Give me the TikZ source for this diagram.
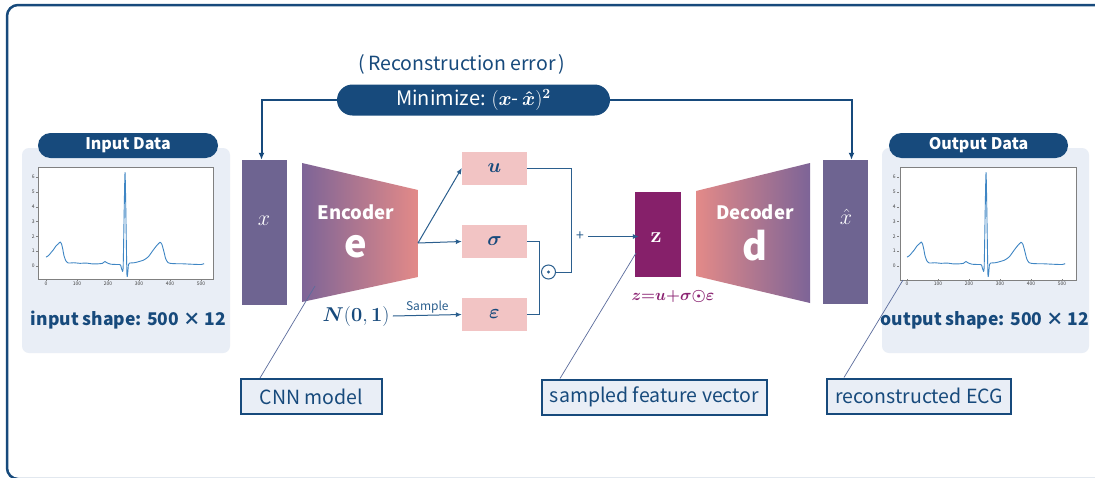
\RequirePackage{fix-cm}
\documentclass[tikz,border=0pt]{standalone}
\usepackage[no-math]{fontspec}
\setmainfont{Noto Sans CJK JP}
\usepackage{amsmath,bm}
\usetikzlibrary{arrows.meta,shapes.misc}
\definecolor{dkblue}{HTML}{174A7C}
\definecolor{lineblue}{HTML}{2B5F8E}
\definecolor{panelbg}{HTML}{E9EEF6}
\definecolor{purp}{HTML}{6E6491}
\definecolor{encL}{HTML}{7D6497}
\definecolor{encR}{HTML}{E38A88}
\definecolor{pinkbox}{HTML}{F2C4C4}
\definecolor{zmag}{HTML}{86206A}
\definecolor{fmag}{HTML}{8B2372}
\definecolor{callline}{HTML}{5B6C9C}
\definecolor{ecgblue}{HTML}{3F86C4}
\newcommand{\fs}[1]{\fontsize{#1}{#1}\selectfont}
\newcommand{\ecgplot}[1]{%
  \begin{scope}[shift={(#1)}, x=0.31pt, y=14.83pt]
    \draw[ecgblue, line width=0.9pt, line join=round] plot[smooth, tension=0.35] coordinates {
      (0,0.6) (8,0.7) (16,0.9) (24,1.1) (32,1.35) (40,1.5) (46,1.62) (50,1.5) (54,1.15) (58,0.7)
      (64,0.35) (72,0.2) (90,0.22) (110,0.18) (130,0.2) (150,0.14) (170,0.15) (182,0.18)
      (190,0.3) (198,0.2) (210,0.12) (230,0.1) (240,0.08) (245,-0.25) (249,0.0)
      (255,6.3) (261,-0.55) (266,0.1) (270,0.2) (285,0.22) (300,0.3) (315,0.4) (330,0.62)
      (345,1.05) (358,1.4) (368,1.6) (374,1.45) (380,1.0) (386,0.5) (394,0.22) (410,0.16)
      (440,0.15) (470,0.12) (500,0.1) (510,0.16)};
    \foreach \t in {0,100,...,500}{
      \draw[gray, line width=0.3pt] (\t,-0.877) -- ++(0,-2pt);
      \node[text=darkgray, font=\fs{5}, anchor=north, inner sep=1pt] at (\t,-1.0) {\t};}
    \foreach \t in {0,...,6}{
      \draw[gray, line width=0.3pt] (-25.8,\t) -- ++(-2pt,0);
      \node[text=darkgray, font=\fs{5}, anchor=east, inner sep=1pt] at (-33,\t) {\t};}
  \end{scope}}
\begin{document}
\begin{tikzpicture}[x=1pt, y=-1pt,
  pill/.style={rounded rectangle, fill=dkblue, text=white, inner sep=0pt},
  panel/.style={fill=panelbg, rounded corners=7pt, inner sep=0pt},
  chart/.style={draw=gray, fill=white, line width=0.5pt, inner sep=0pt},
  databox/.style={fill=purp, inner sep=0pt},
  symbox/.style={fill=pinkbox, inner sep=0pt, minimum width=65, minimum height=33, text=dkblue, font=\fs{20}},
  conn/.style={draw=lineblue, line width=1pt, -{Latex[length=6pt,width=5pt]}},
  wire/.style={draw=lineblue, line width=1pt},
  fb/.style={draw=dkblue, line width=2pt, -{Latex[length=7pt,width=6pt]}},
  callout/.style={draw=dkblue, line width=2pt, fill=panelbg, text=dkblue, font=\fs{19.5}, inner sep=0pt, minimum height=35},
  cline/.style={draw=callline, line width=0.7pt},
  shapetxt/.style={text=dkblue, font=\bfseries\fs{17.5}}
]
\useasboundingbox (0,0) rectangle (1095,477);
\fill[white] (0,0) rectangle (1095,477);
\begin{scope}
\clip (0,0) rectangle (1095,477);
\draw[dkblue, line width=2.5pt, rounded corners=11pt] (7,5) rectangle (1130,479);
\end{scope}

% ---------- input panel ----------
\node[panel, minimum width=208, minimum height=205] (inp) at (126,250.5) {};
\node[pill, minimum width=180, minimum height=25, font=\bfseries\fs{16}] (intitle) at (128,145.5) {Input Data};
\node[chart, minimum width=175, minimum height=112] (inchart) at (125.5,223) {};
\coordinate (inorig) at (46,266);
\ecgplot{inorig}
\node[shapetxt] (inshape) at (128.5,320) {input shape: 500 × 12};

% ---------- output panel ----------
\node[panel, minimum width=207, minimum height=205] (outp) at (985.5,250.5) {};
\node[pill, minimum width=179, minimum height=25, font=\bfseries\fs{16}] (outtitle) at (978.5,145.5) {Output Data};
\node[chart, minimum width=176, minimum height=113] (outchart) at (988,223.5) {};
\coordinate (outorig) at (907,266);
\ecgplot{outorig}
\node[shapetxt] (outshape) at (985,320) {output shape: 500 × 12};

% ---------- x and x-hat ----------
\node[databox, minimum width=45, minimum height=145] (xin) at (264.5,232.5) {};
\node[text=white, font=\fs{22}] (xlbl) at (264,221) {$x$};
\node[databox, minimum width=45, minimum height=144] (xhat) at (845.5,232) {};
\node[text=white, font=\fs{22}] (xhlbl) at (846,217) {$\hat{x}$};

% ---------- encoder ----------
\shade[left color=encL, right color=encR] (302,163) -- (418,190) -- (418,277) -- (302,302) -- cycle;
\node[text=white, font=\bfseries\fs{18.5}] (enct) at (356,212) {Encoder};
\node[text=white, font=\bfseries\fs{38}] (encv) at (356,247) {e};
\coordinate (encout) at (418,243);

% ---------- decoder ----------
\shade[left color=encR, right color=encL] (696,191) -- (810,163) -- (810,303) -- (696,276) -- cycle;
\node[text=white, font=\bfseries\fs{18.5}] (dect) at (755,212) {Decoder};
\node[text=white, font=\bfseries\fs{38}] (decv) at (755,246) {d};

% ---------- latent ----------
\node[symbox] (u) at (494.5,168) {$\bm{u}$};
\node[symbox] (sig) at (494.5,241.5) {$\bm{\sigma}$};
\node[symbox] (eps) at (494.5,314.5) {$\bm{\varepsilon}$};
\draw[conn] (encout) -- (u.west);
\draw[conn] (encout) -- (sig.west);
\node[text=dkblue, font=\fs{20}] (N) at (356,316) {$\bm{N}\mathbf{(0,1)}$};
\draw[conn] (N.east) -- node[above, text=lineblue, font=\fs{12}, inner sep=2pt] (samp) {Sample} (eps.west);
\node[circle, draw=lineblue, line width=1pt, minimum size=14, inner sep=0pt] (od) at (548.5,272) {};
\fill[lineblue] (od.center) circle (1.6);
\draw[wire] (sig.east) -- ++(12,0) |- (eps.east);
\draw[wire] (u.east) -- ++(44,0) |- (od.east);
\node[text=lineblue, font=\fs{14}, inner sep=0pt] (plus) at (580,236.5) {+};
\node[fill=zmag, inner sep=0pt, minimum width=46, minimum height=85] (z) at (658,234.5) {};
\node[text=white, font=\fs{22}] (zl) at (656,238) {$\mathbf{z}$};
\draw[conn] ([xshift=4]plus.east) -- ([xshift=4]plus.east -| z.west);
\node[text=fmag, font=\fs{16}] (zf) at (673,296) {$\bm{z{=}u{+}\sigma{\odot}\varepsilon}$};

% ---------- feedback ----------
\node[text=dkblue, font=\fs{19.5}] (rerr) at (462,64) {(\,Reconstruction error\,)};
\node[pill, minimum width=273, minimum height=31, font=\fs{20}] (mini) at (473.5,100) {Minimize: $(\bm{x}{\text{-}}\,\bm{\hat{x}})^{\mathbf{2}}$};
\draw[fb] (mini.west) -| ([xshift=-3]xin.north);
\draw[fb] (mini.east) -| ([xshift=6]xhat.north);

% ---------- callouts ----------
\node[callout, minimum width=141] (cnn) at (311.5,396.5) {CNN model};
\node[callout, minimum width=225] (sfv) at (654.5,397) {sampled feature vector};
\node[callout, minimum width=184] (rec) at (919,396) {reconstructed ECG};
\coordinate (cnnp) at (315,286);
\coordinate (sfvp) at (636,253);
\coordinate (recp) at (903,280);
\draw[cline] (cnnp) -- ([xshift=20]cnn.north west);
\draw[cline] (sfvp) -- ([xshift=19]sfv.north west);
\draw[cline] (recp) -- ([xshift=18]rec.north west);
\end{tikzpicture}
\end{document}
